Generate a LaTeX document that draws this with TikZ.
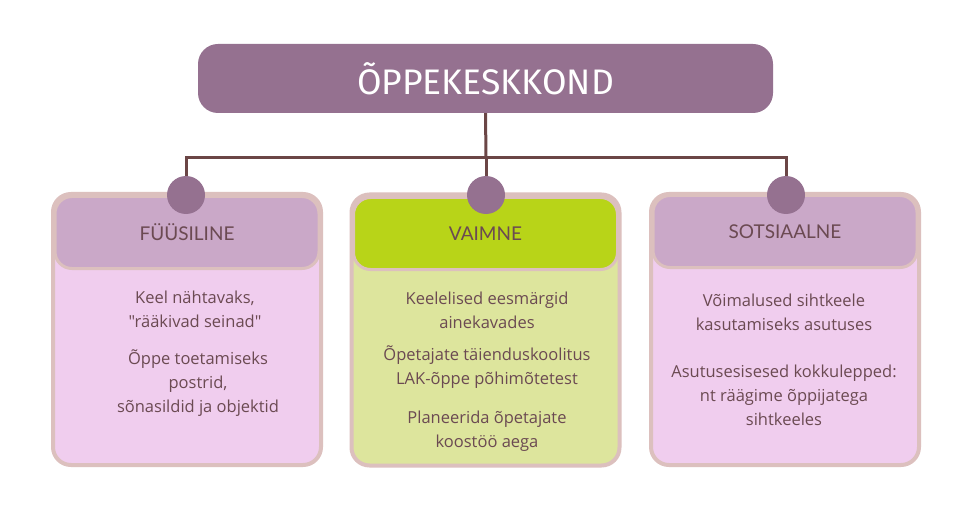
\documentclass[tikz,border=0pt]{standalone}
\usepackage{fontspec}
\setmainfont{Open Sans}[Ligatures=TeXOff]
\newfontfamily\titlefont{Fira Sans}
\newfontfamily\headfont{Lato}
\definecolor{titlefill}{HTML}{957190}
\definecolor{linec}{HTML}{6B4646}
\definecolor{cardborder}{HTML}{DCC0BE}
\definecolor{pinkfill}{HTML}{F0CDEE}
\definecolor{headpink}{HTML}{CAA8C8}
\definecolor{greenfill}{HTML}{DDE59D}
\definecolor{headgreen}{HTML}{B8D418}
\definecolor{textc}{HTML}{6B4A52}
\tikzset{
  card/.style={draw=cardborder, line width=4pt, rounded corners=18pt, minimum width=268pt, minimum height=271pt, inner sep=0pt},
  head/.style={draw=cardborder, line width=3pt, rounded corners=17pt, minimum width=264pt, minimum height=72pt, inner sep=0pt, text=textc, font=\headfont\fontsize{19}{21}\selectfont},
  dot/.style={circle, fill=titlefill, minimum size=38pt, inner sep=0pt},
  body/.style={text=textc, align=center, font=\fontsize{16.5}{24}\selectfont},
  conn/.style={draw=linec, line width=3pt}
}
\begin{document}
\begin{tikzpicture}[x=1pt,y=-1pt]
\useasboundingbox[fill=white] (0,0) rectangle (974,513);
\node[fill=titlefill, rounded corners=20pt, minimum width=575pt, minimum height=69pt, text=white, font=\titlefont\fontsize{35.5}{38}\selectfont] (title) at (485.5,78.5) {ÕPPEKESKKOND};

\coordinate (hub) at (486,158);
\coordinate (hl) at (186,158);
\coordinate (hr) at (786,158);

% cards
\node[card, fill=pinkfill] (c1) at (187,329.5) {};
\node[card, fill=greenfill] (c2) at (485.5,330) {};
\node[card, fill=pinkfill] (c3) at (785,329.5) {};

\node[head, fill=headpink] (h1) at (187,232.5) {FÜÜSILINE};
\node[head, fill=headgreen] (h2) at (485.5,233.5) {VAIMNE};
\node[head, fill=headpink] (h3) at (785,231.5) {SOTSIAALNE};

\node[dot] (d1) at (186,195) {};
\node[dot] (d2) at (486,195) {};
\node[dot] (d3) at (786,195) {};

\draw[conn] (title.south) -- (hub);
\draw[conn, line cap=rect] (hl) -- (hr);
\draw[conn] (hl) -- (d1.north);
\draw[conn] (hub) -- (d2.north);
\draw[conn] (hr) -- (d3.north);

% body texts
\node[body] (t1a) at (195,309) {Keel nähtavaks,\\ "rääkivad seinad"};
\node[body] (t1b) at (198,383) {Õppe toetamiseks\\postrid,\\sõnasildid ja objektid};

\node[body] (t2a) at (487,310.5) {Keelelised eesmärgid\\ainekavades};
\node[body] (t2b) at (487,367.5) {Õpetajate täienduskoolitus\\LAK-õppe põhimõtetest};
\node[body] (t2c) at (487,431.5) {Planeerida õpetajate\\koostöö aega};

\node[body] (t3a) at (784,312.5) {Võimalused sihtkeele\\kasutamiseks asutuses};
\node[body] (t3b) at (784,395) {Asutusesisesed kokkulepped:\\nt räägime õppijatega\\sihtkeeles};
\end{tikzpicture}
\end{document}
